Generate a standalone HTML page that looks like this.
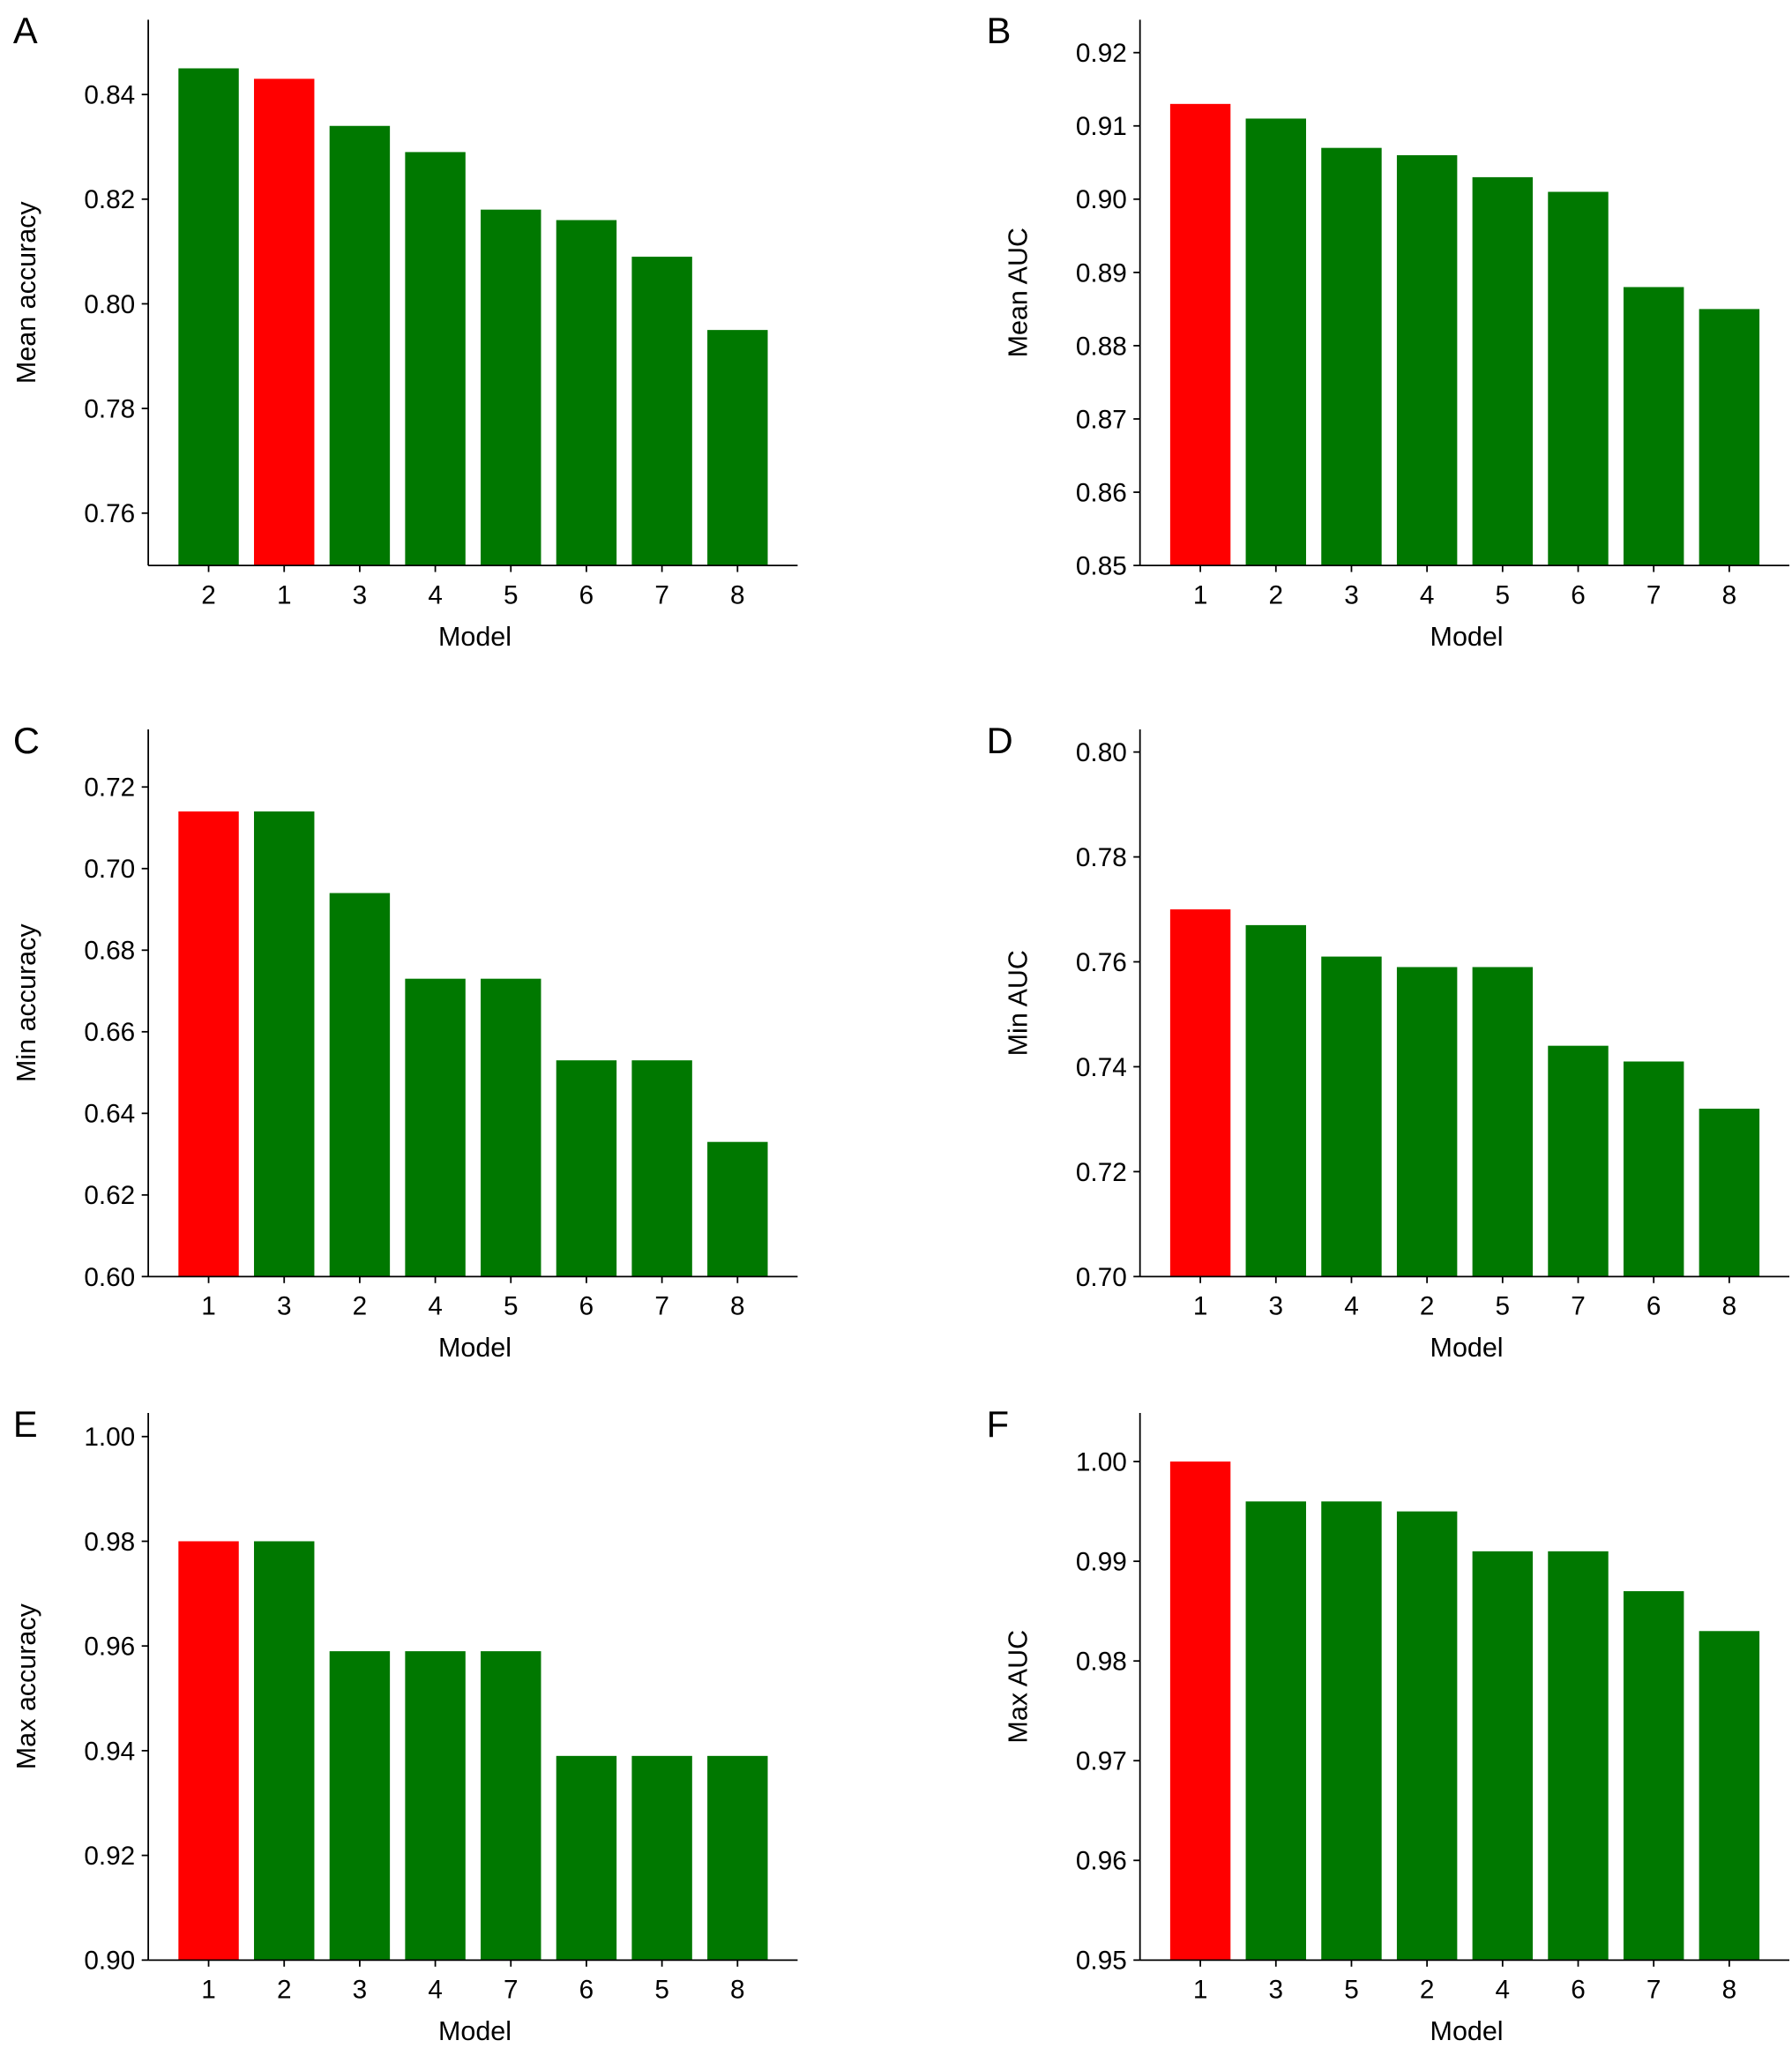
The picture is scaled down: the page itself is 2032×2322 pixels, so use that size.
<!DOCTYPE html>
<html><head><meta charset="utf-8"><style>
html,body{margin:0;padding:0;background:#fff}
svg{display:block}
text{font-family:"Liberation Sans",Arial,sans-serif;fill:#000}
</style></head><body>
<svg id="fig" width="2032" height="2322" viewBox="0 0 1366 1561" xmlns="http://www.w3.org/2000/svg"></svg>
<script>
const catsA=["2","1","3","4","5","6","7","8"];
const valsA=[0.845,0.843,0.834,0.829,0.818,0.816,0.809,0.795];
const ticksA=[0.76,0.78,0.80,0.82,0.84];
const catsB=["1","2","3","4","5","6","7","8"];
const valsB=[0.913,0.911,0.907,0.906,0.903,0.901,0.888,0.885];
const ticksB=[0.85,0.86,0.87,0.88,0.89,0.90,0.91,0.92];
const catsC=["1","3","2","4","5","6","7","8"];
const valsC=[0.714,0.714,0.694,0.673,0.673,0.653,0.653,0.633];
const ticksC=[0.60,0.62,0.64,0.66,0.68,0.70,0.72];
const catsD=["1","3","4","2","5","7","6","8"];
const valsD=[0.770,0.767,0.761,0.759,0.759,0.744,0.741,0.732];
const ticksD=[0.70,0.72,0.74,0.76,0.78,0.80];
const catsE=["1","2","3","4","7","6","5","8"];
const valsE=[0.980,0.980,0.959,0.959,0.959,0.939,0.939,0.939];
const ticksE=[0.90,0.92,0.94,0.96,0.98,1.00];
const catsF=["1","3","5","2","4","6","7","8"];
const valsF=[1.000,0.996,0.996,0.995,0.991,0.991,0.987,0.983];
const ticksF=[0.95,0.96,0.97,0.98,0.99,1.00];

const NS="http://www.w3.org/2000/svg";
const svg=document.getElementById('fig');
function mk(tag,attrs,parent){const e=document.createElementNS(NS,tag);for(const k in attrs)e.setAttribute(k,attrs[k]);(parent||svg).appendChild(e);return e;}

function panel(letter,ax,top,bot,ymin,ymax,cats,vals,ticks,ytitle,lx){
  const g=mk('g',{});
  
  
  const y=v=>bot-(v-ymin)/(ymax-ymin)*(bot-top);
  const step=57.6, x0=ax+46;
  const x=i=>x0+i*step;
  const bw=46;
  vals.forEach((v,i)=>{
    const r=mk('rect',{x:x(i)-bw/2,y:y(v),width:bw,height:bot-y(v),fill:cats[i]==="1"?"#ff0000":"#007800"},g);
    
    
  });
  const axr=ax+495;
  const xl=mk('line',{x1:ax,y1:bot,x2:axr,y2:bot,stroke:'#000','stroke-width':1.2},g);
  
  
  const yl=mk('line',{x1:ax,y1:top,x2:ax,y2:bot,stroke:'#000','stroke-width':1.2},g);
  
  
  ticks.forEach(t=>{
    mk('line',{x1:ax-5,y1:y(t),x2:ax,y2:y(t),stroke:'#000','stroke-width':1.2},g);
    const tx=mk('text',{x:ax-10,y:y(t)+7,'text-anchor':'end','font-size':20},g);
    tx.textContent=t.toFixed(2);
    
    
  });
  cats.forEach((c,i)=>{
    mk('line',{x1:x(i),y1:bot,x2:x(i),y2:bot+5,stroke:'#000','stroke-width':1.2},g);
    const tx=mk('text',{x:x(i),y:bot+29,'text-anchor':'middle','font-size':20},g);
    tx.textContent=c;
    
    
  });
  const xt=mk('text',{x:ax+249,y:bot+61,'text-anchor':'middle','font-size':20.5},g);
  xt.textContent='Model';
  
  
  const cy=(top+bot)/2;
  const yt=mk('text',{x:ax-86,y:cy,'text-anchor':'middle','font-size':20.5,transform:`rotate(-90 ${ax-86} ${cy})`},g);
  yt.textContent=ytitle;
  
  
  const lt=mk('text',{x:lx,y:top+18,'font-size':28},g);
  lt.textContent=letter;
  
  
}
panel('A',113,15,431,0.75,0.8543,catsA,valsA,ticksA,'Mean accuracy',10);
panel('B',869,15,431,0.85,0.9245,catsB,valsB,ticksB,'Mean AUC',752);
panel('C',113,556,973,0.60,0.7341,catsC,valsC,ticksC,'Min accuracy',10);
panel('D',869,556,973,0.70,0.8043,catsD,valsD,ticksD,'Min AUC',752);
panel('E',113,1077,1494,0.90,1.0045,catsE,valsE,ticksE,'Max accuracy',10);
panel('F',869,1077,1494,0.95,1.00487,catsF,valsF,ticksF,'Max AUC',752);
</script>
</body></html>
